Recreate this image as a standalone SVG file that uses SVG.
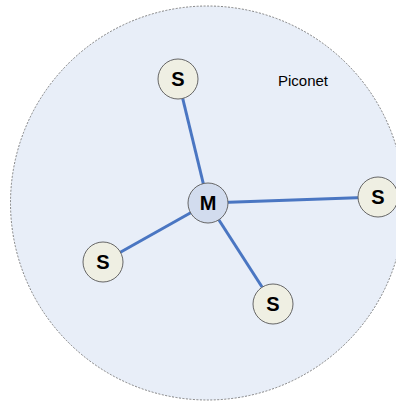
<svg xmlns="http://www.w3.org/2000/svg" width="396" height="401" viewBox="0 0 396 401">
<style>
.net{fill:#e8eef8;stroke:#666;stroke-width:0.8;stroke-dasharray:2,1.5}
.s{fill:#efefe3;stroke:#666;stroke-width:1}
.m{fill:#d2dcee;stroke:#666;stroke-width:1}
.lbl{font-family:"Liberation Sans",Arial,sans-serif;font-weight:bold;font-size:20px;fill:#000;text-anchor:middle}
.edge{stroke:#4a76c2;stroke-width:3;fill:none}
.cap{font-family:"Liberation Sans",Arial,sans-serif;font-size:15px;fill:#000}
</style>
<rect width="396" height="401" fill="#ffffff"/>
<g id="piconet">
<circle class="net" cx="207.5" cy="203" r="197"/>
<text class="cap" x="278" y="86">Piconet</text>
</g>
<g id="connectors">
<line class="edge" x1="208" y1="203" x2="178" y2="79"/>
<line class="edge" x1="208" y1="203" x2="378" y2="197"/>
<line class="edge" x1="208" y1="203" x2="103" y2="262"/>
<line class="edge" x1="208" y1="203" x2="273" y2="304"/>
</g>
<g id="master">
<circle class="m" cx="208" cy="203" r="20"/>
<text class="lbl" x="208" y="210">M</text>
</g>
<g id="slave-top">
<circle class="s" cx="178" cy="79" r="20"/>
<text class="lbl" x="178" y="86">S</text>
</g>
<g id="slave-right">
<circle class="s" cx="378" cy="197" r="20"/>
<text class="lbl" x="378" y="204">S</text>
</g>
<g id="slave-left">
<circle class="s" cx="103" cy="262" r="20"/>
<text class="lbl" x="103" y="269">S</text>
</g>
<g id="slave-bottom">
<circle class="s" cx="273" cy="304" r="20"/>
<text class="lbl" x="273" y="311">S</text>
</g>
</svg>
